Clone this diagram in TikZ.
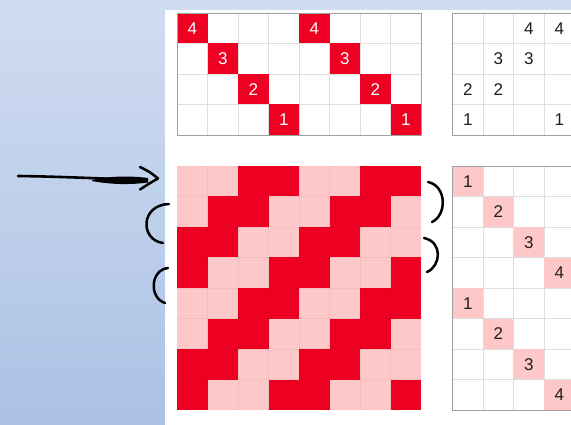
\documentclass[tikz,border=0pt]{standalone}
\usepackage{fontspec}
\setmainfont{Liberation Sans}
\definecolor{bgT}{RGB}{208,221,241}
\definecolor{bgB}{RGB}{171,193,228}
\definecolor{redD}{RGB}{238,0,34}
\definecolor{pinkL}{RGB}{255,200,200}
\definecolor{gridC}{RGB}{222,222,222}
\definecolor{borderC}{RGB}{160,160,160}
\definecolor{txtC}{RGB}{30,30,30}
\definecolor{ink}{RGB}{0,0,0}
\begin{document}
\begin{tikzpicture}[x=1pt,y=-1pt,
  gridln/.style={draw=gridC, line width=0.7pt},
  softln/.style={draw=black, draw opacity=0.05, line width=0.7pt},
  borderln/.style={draw=borderC, line width=0.9pt},
  num/.style={font=\fontsize{17}{19}\selectfont, inner sep=0pt, text=txtC},
  numw/.style={num, text=white},
  hand/.style={draw=ink, line width=2.5pt, line cap=round, line join=round}]
\useasboundingbox (0,0) rectangle (571,425);
\clip (0,0) rectangle (571,425);
% background gradient
\foreach \i in {0,...,85} {
  \pgfmathtruncatemacro\p{\i*100/85}
  \fill[bgB!\p!bgT] (0,\i*5) rectangle (571,\i*5+5.6);
}
\fill[white] (165,10) rectangle (571,425);

% ---------- top-left grid ----------
\begin{scope}[shift={(177,13)}]
  \foreach \i in {1,...,7} \draw[gridln] (\i*30.5,0) -- (\i*30.5,122);
  \foreach \j in {1,...,3} \draw[gridln] (0,\j*30.5) -- (244,\j*30.5);
  \foreach \r in {0,...,3} {
    \pgfmathtruncatemacro\n{4-\r}
    \foreach \k in {0,4} {
      \fill[redD] ({(\r+\k)*30.5},{\r*30.5}) rectangle ++(30.5,30.5);
      \node[numw] (tl-\r-\k) at ({(\r+\k)*30.5+15.25},{\r*30.5+15.5}) {\n};
    }
  }
  \draw[borderln] (0,0) rectangle (244,122);
\end{scope}

% ---------- top-right grid ----------
\begin{scope}[shift={(452.5,13)}]
  \foreach \i in {1,...,4} \draw[gridln] (\i*30.5,0) -- (\i*30.5,122);
  \foreach \j in {1,...,3} \draw[gridln] (0,\j*30.5) -- (160,\j*30.5);
  \draw[borderln] (160,0) -- (0,0) -- (0,122) -- (160,122);
  \foreach \c/\r/\n in {2/0/4,3/0/4,1/1/3,2/1/3,0/2/2,1/2/2,0/3/1,3/3/1}
    \node[num] (tr-\c-\r) at ({\c*30.5+15.25},{\r*30.5+15.5}) {\n};
\end{scope}

% ---------- bottom-left grid ----------
\begin{scope}[shift={(177,166)}]
  \foreach \r in {0,...,7} {
    \foreach \c in {0,...,7} {
      \pgfmathtruncatemacro\m{mod(\c+\r,4)}
      \ifnum\m>1
        \fill[redD] ({\c*30.5},{\r*30.5}) rectangle ++(30.5,30.5);
      \else
        \fill[pinkL] ({\c*30.5},{\r*30.5}) rectangle ++(30.5,30.5);
      \fi
    }
  }
  \foreach \i in {1,...,7} \draw[softln] (\i*30.5,0) -- (\i*30.5,244);
  \foreach \j in {1,...,7} \draw[softln] (0,\j*30.5) -- (244,\j*30.5);
\end{scope}

% ---------- bottom-right grid ----------
\begin{scope}[shift={(452.5,166)}]
  \foreach \i in {1,...,4} \draw[gridln] (\i*30.5,0) -- (\i*30.5,244);
  \foreach \j in {1,...,7} \draw[gridln] (0,\j*30.5) -- (160,\j*30.5);
  \foreach \r in {0,...,7} {
    \pgfmathtruncatemacro\c{mod(\r,4)}
    \pgfmathtruncatemacro\n{\c+1}
    \fill[pinkL] ({\c*30.5+0.4},{\r*30.5+0.4}) rectangle ++(29.7,29.7);
    \node[num] (br-\r) at ({\c*30.5+15.25},{\r*30.5+15.5}) {\n};
  }
  \draw[borderln] (160,0) -- (0,0) -- (0,244) -- (160,244);
\end{scope}

% ---------- handwritten marks ----------
\coordinate (arS) at (18,176);
\coordinate (arE) at (147,180);
\draw[hand, line width=2.6pt] (arS) .. controls (60,176.5) and (110,179) .. (arE);
\fill[ink] (92,180) .. controls (112,175.5) and (132,176) .. (148,178)
  -- (148,182.5) .. controls (130,185) and (110,184.5) .. (92,181) -- cycle;
\coordinate (ahT) at (140,167);
\coordinate (ahP) at (158,178.5);
\coordinate (ahB) at (140,189.5);
\draw[hand] (ahT) .. controls (150,172) .. (ahP) .. controls (150,183) .. (ahB);

\coordinate (lp1a) at (169,204);
\coordinate (lp1b) at (163,243);
\draw[hand] (lp1a) .. controls (140,205) and (140,240) .. (lp1b);
\coordinate (lp2a) at (168,268);
\coordinate (lp2b) at (165,303);
\draw[hand] (lp2a) .. controls (150,270) and (149,298) .. (lp2b);

\coordinate (rp1a) at (428,182);
\coordinate (rp1b) at (432,222);
\draw[hand] (rp1a) .. controls (447,186) and (447,215) .. (rp1b);
\coordinate (rp2a) at (424,238);
\coordinate (rp2b) at (427,272);
\draw[hand] (rp2a) .. controls (443,242) and (441,266) .. (rp2b);
\end{tikzpicture}
\end{document}
